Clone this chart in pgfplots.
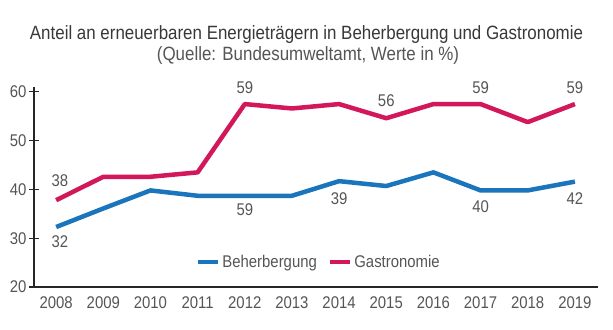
\documentclass[border=0pt]{standalone}
\usepackage{pgfplots}
\pgfplotsset{compat=1.18}
\usepackage{fontspec}
\setmainfont{Liberation Sans}[FakeStretch=0.88]
\definecolor{cblue}{HTML}{1B75BC}
\definecolor{cred}{HTML}{D2185A}
\definecolor{ctext}{HTML}{383838}
\definecolor{clab}{HTML}{555555}
\begin{document}
\begin{tikzpicture}
\path (0,0) rectangle (613bp,330bp);
\node[anchor=base, text=ctext, font=\fontsize{19.3}{21}\selectfont] at (306.5bp,290bp) {Anteil an erneuerbaren Energieträgern in Beherbergung und Gastronomie};
\node[anchor=base, text=clab, font=\fontsize{19.3}{21}\selectfont] at (308bp,269bp) {(Quelle: Bundesumweltamt, Werte in \%)};
\begin{axis}[
  at={(34bp,43bp)}, anchor=south west,
  scale only axis, width=564bp, height=200bp,
  xmin=2007.53, xmax=2019.49, ymin=20, ymax=61,
  axis lines*=left,
  axis line style={draw=black!85, line width=1.1bp, -},
  xtick={2008,...,2019},
  ytick={20,30,40,50,60},
  xtick style={draw=none},
  ytick style={draw=black!85, line width=1.1bp},
  tick align=center,
  major tick length=10bp,
  xticklabel style={/pgf/number format/1000 sep={}, text=clab, font=\fontsize{17}{19}\selectfont, yshift=-1bp},
  yticklabel style={text=clab, font=\fontsize{17}{19}\selectfont, xshift=1bp},
  /pgf/number format/assume math mode=true,
  clip=false,
  legend style={draw=none, fill=none, at={(0.505,0.125)}, anchor=center,
    legend columns=2, font=\fontsize{17}{19}\selectfont, text=clab,
    /tikz/every even column/.append style={column sep=9bp}},
  legend image code/.code={\path (0bp,0bp) -- (20bp,0bp); \draw[#1, line width=3bp] (0bp,0bp) -- (15bp,0bp);},
]
\addplot[cblue, line width=4.5bp, line join=round] coordinates {
(2008,32.3) (2009,36.1) (2010,39.8) (2011,38.7) (2012,38.7) (2013,38.7)
(2014,41.7) (2015,40.7) (2016,43.5) (2017,39.8) (2018,39.8) (2019,41.6)};
\addlegendentry{Beherbergung}
\addplot[cred, line width=4.5bp, line join=round] coordinates {
(2008,37.8) (2009,42.6) (2010,42.6) (2011,43.5) (2012,57.5) (2013,56.6)
(2014,57.5) (2015,54.6) (2016,57.5) (2017,57.5) (2018,53.8) (2019,57.5)};
\addlegendentry{Gastronomie}
\begin{scope}[every node/.style={text=clab, font=\fontsize{17}{19}\selectfont}]
\node at (axis cs:2008.08,41.9) {38};
\node at (axis cs:2008.08,29.2) {32};
\node at (axis cs:2012,60.8) {59};
\node at (axis cs:2012,35.8) {59};
\node at (axis cs:2014,38.1) {39};
\node at (axis cs:2015,58.2) {56};
\node at (axis cs:2017,60.8) {59};
\node at (axis cs:2017,36.4) {40};
\node at (axis cs:2019,60.8) {59};
\node at (axis cs:2019,38.2) {42};
\end{scope}
\end{axis}
\end{tikzpicture}
\end{document}
